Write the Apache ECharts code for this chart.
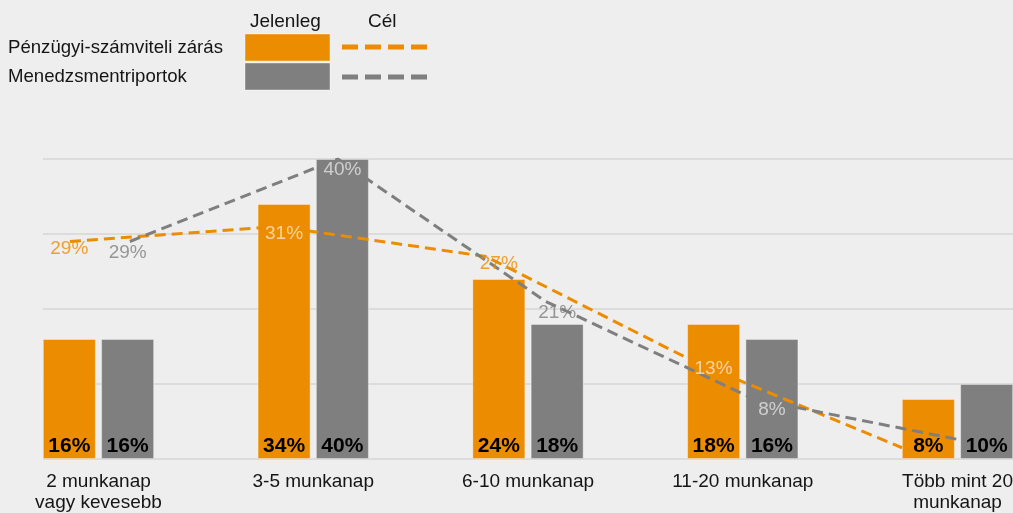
<!DOCTYPE html>
<html>
<head>
<meta charset="utf-8">
<script src="https://cdn.jsdelivr.net/npm/echarts@6/dist/echarts.min.js"></script>
<style>
  html, body { margin: 0; padding: 0; background: #eeeeee; }
  #chart { width: 1013px; height: 513px; }
</style>
</head>
<body>
<div id="chart"></div>
<script>
var categories = ['2 munkanap\nvagy kevesebb', '3-5 munkanap', '6-10 munkanap', '11-20 munkanap', 'Több mint 20\nmunkanap'];
var seriesNames = ['Pénzügyi-számviteli zárás', 'Menedzsmentriportok'];
var currentFin = [16, 34, 24, 18, 8];     // Jelenleg
var currentMgmt = [16, 40, 18, 16, 10];
var targetFin = [29, 31, 27, 13, 1.5];    // Cél (last point has no label)
var targetMgmt = [29, 40, 21, 8, 2.5];
var labeledTargets = 4;

var ORANGE = '#ec8c00', GREY = '#7f7f7f';
var FONT = '"Liberation Sans", Arial, Helvetica, sans-serif';
var LIGHT = 'rgba(255,255,255,0.78)';
var TXT = '#151515';

var chart = echarts.init(document.getElementById('chart'));

function linePoints(vals, shift) {
  return vals.map(function (v, i) { return [i + shift, v]; });
}
// labels sit over the bar of the same series; light text when inside the bar
function labelPoints(vals, bars, shift, color) {
  var out = [];
  for (var i = 0; i < labeledTargets; i++) {
    out.push({
      value: [i + shift, vals[i]],
      label: { color: vals[i] <= bars[i] ? LIGHT : color }
    });
  }
  return out;
}

function targetLabel(dy) {
  return {
    show: true, position: 'inside', offset: [0, dy], fontSize: 19, fontFamily: FONT,
    textBorderWidth: 0, textBorderColor: 'transparent', textShadowBlur: 0,
    formatter: function (p) { return p.value[1] + '%'; }
  };
}
var barLabel = {
  show: true, position: 'insideBottom', distance: 2, formatter: '{c}%',
  fontSize: 21, fontWeight: 'bold', color: '#000', fontFamily: FONT
};

var option = {
  backgroundColor: '#eeeeee',
  textStyle: { fontFamily: FONT },
  animation: false,
  grid: [
    { left: -8.9, right: -51.9, top: 159, bottom: 54, containLabel: false, outerBoundsMode: 'none' },
    { left: 43, right: 0, top: 159, bottom: 54, containLabel: false, outerBoundsMode: 'none' }
  ],
  xAxis: [
    {
      type: 'category', gridIndex: 0, data: categories,
      axisLine: { show: false }, axisTick: { show: false },
      axisLabel: { interval: 0, fontSize: 19, color: TXT, margin: 12, lineHeight: 21, fontFamily: FONT }
    },
    { type: 'value', gridIndex: 0, show: false, min: -0.379, max: 4.783 },
    { type: 'value', gridIndex: 0, show: false, min: -0.5, max: 4.5 },
    { type: 'value', gridIndex: 1, show: false, min: 0, max: 1 }
  ],
  yAxis: [
    { type: 'value', gridIndex: 0, min: 0, max: 40, interval: 10, show: false },
    {
      type: 'value', gridIndex: 1, min: 0, max: 40, interval: 10,
      axisLine: { show: false }, axisTick: { show: false }, axisLabel: { show: false },
      splitLine: { lineStyle: { color: '#dcdcdc', width: 2 } }
    }
  ],
  graphic: [
    { type: 'text', left: 250, top: 12, style: { text: 'Jelenleg', fill: TXT, font: '19px ' + FONT } },
    { type: 'text', left: 368, top: 12, style: { text: 'Cél', fill: TXT, font: '19px ' + FONT } },
    { type: 'text', left: 8, top: 38, style: { text: seriesNames[0], fill: TXT, font: '18.6px ' + FONT } },
    { type: 'text', left: 8, top: 67, style: { text: seriesNames[1], fill: TXT, font: '18.6px ' + FONT } },
    { type: 'rect', shape: { x: 245, y: 34, width: 85, height: 27 }, style: { fill: ORANGE, stroke: 'rgba(255,255,255,0.4)', lineWidth: 1 } },
    { type: 'rect', shape: { x: 245, y: 63, width: 85, height: 27 }, style: { fill: GREY, stroke: 'rgba(255,255,255,0.4)', lineWidth: 1 } },
    { type: 'line', shape: { x1: 342, y1: 47, x2: 427, y2: 47 }, style: { stroke: ORANGE, lineWidth: 5, lineDash: [16, 7] } },
    { type: 'line', shape: { x1: 342, y1: 77, x2: 427, y2: 77 }, style: { stroke: GREY, lineWidth: 5, lineDash: [16, 7] } }
  ],
  series: [
    {
      name: seriesNames[0], type: 'bar', xAxisIndex: 0, yAxisIndex: 0,
      data: currentFin, barWidth: 53, barGap: '10%',
      itemStyle: { color: ORANGE, borderColor: 'rgba(255,255,255,0.35)', borderWidth: 1 },
      label: barLabel
    },
    {
      name: seriesNames[1], type: 'bar', xAxisIndex: 0, yAxisIndex: 0,
      data: currentMgmt, barWidth: 53,
      itemStyle: { color: GREY, borderColor: 'rgba(255,255,255,0.35)', borderWidth: 1 },
      label: barLabel
    },
    {
      name: seriesNames[0] + ' cél', type: 'line', xAxisIndex: 1, yAxisIndex: 0,
      data: linePoints(targetFin, 0), symbol: 'none',
      lineStyle: { color: ORANGE, width: 3, type: [11, 6] }
    },
    {
      name: seriesNames[1] + ' cél', type: 'line', xAxisIndex: 1, yAxisIndex: 0,
      data: linePoints(targetMgmt, 0.288), symbol: 'none',
      lineStyle: { color: GREY, width: 3, type: [11, 6] }
    },
    {
      type: 'scatter', xAxisIndex: 2, yAxisIndex: 0, symbolSize: 0, silent: true, z: 5,
      itemStyle: { color: 'transparent' },
      data: labelPoints(targetFin, currentFin, -0.136, ORANGE),
      label: targetLabel(7)
    },
    {
      type: 'scatter', xAxisIndex: 2, yAxisIndex: 0, symbolSize: 0, silent: true, z: 5,
      itemStyle: { color: 'transparent' },
      data: labelPoints(targetMgmt, currentMgmt, 0.136, GREY),
      label: targetLabel(11)
    }
  ]
};
chart.setOption(option);
</script>
</body>
</html>
